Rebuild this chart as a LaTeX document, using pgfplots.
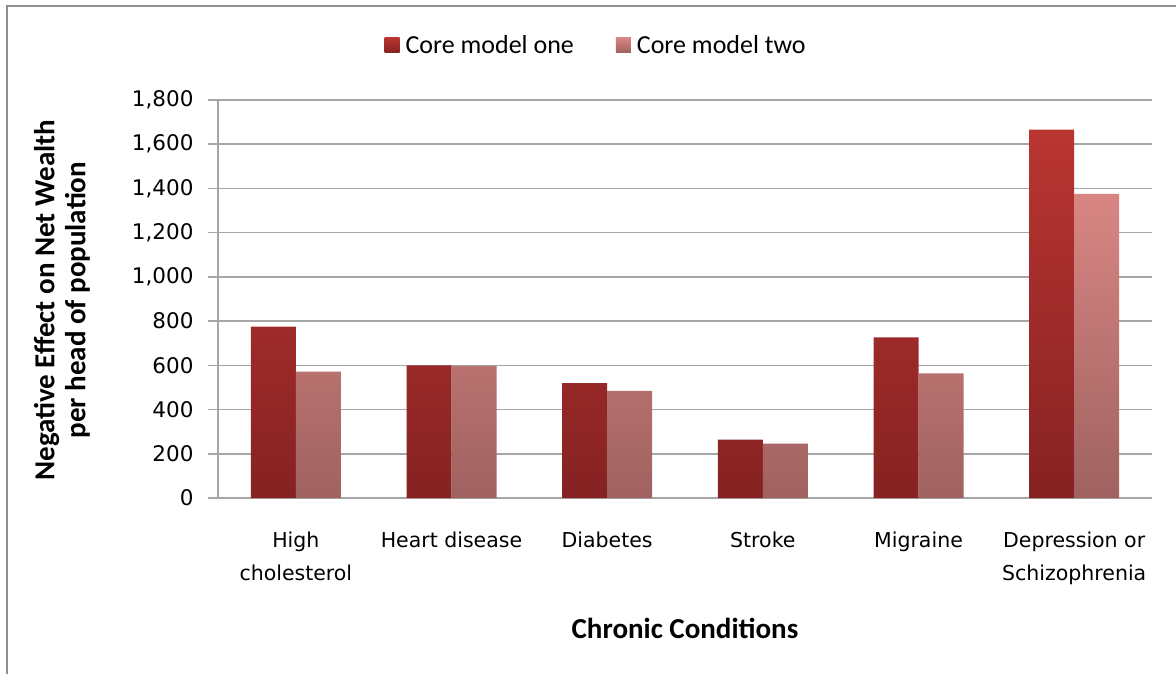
\documentclass[border=0pt]{standalone}
\usepackage{pgfplots}
\pgfplotsset{compat=1.18}
\usepackage{fontspec}
\setmainfont{Carlito}
\newfontfamily\tickfamily{DejaVu Sans}
\definecolor{onetop}{HTML}{B93532}
\definecolor{onebot}{HTML}{862222}
\definecolor{twotop}{HTML}{D98683}
\definecolor{twobot}{HTML}{9F6260}
\definecolor{gridc}{HTML}{A6A6A6}
\definecolor{framec}{HTML}{8F8F8F}
\begin{document}
\begin{tikzpicture}[x=1pt,y=1pt]
\useasboundingbox (0,0) rectangle (1176,673);
\draw[framec, line width=2.5pt] (7,-2) -- (7,667) -- (1178,667);
\begin{axis}[
  at={(218pt,175pt)}, anchor=south west,
  scale only axis, width=934pt, height=398pt,
  ybar=0pt, bar width=45pt,
  xmin=-0.5, xmax=5.5, ymin=0, ymax=1800,
  ytick={0,200,...,1800},
  xtick={0,...,5},
  xticklabels={{High\\cholesterol},{Heart disease},{Diabetes},{Stroke},{Migraine},{Depression or\\Schizophrenia}},
  xticklabel style={font=\tickfamily\fontsize{20.5}{33}\selectfont, align=center, anchor=north, yshift=-20pt},
  yticklabel style={font=\tickfamily\fontsize{21.5}{24}\selectfont, xshift=-11pt},
  /pgf/number format/assume math mode=true,
  /pgf/number format/1000 sep={,},
  axis lines*=left,
  axis line style={gridc, line width=1.5pt},
  ymajorgrids, grid style={gridc, line width=1.5pt},
  major x tick style={draw=none},
  ytick style={gridc, line width=1.5pt},
  tick align=outside, major tick length=10pt,
  extra x ticks={-0.5,0.5,...,5.5},
  extra x tick labels={},
  extra x tick style={major tick length=9pt, tick style={gridc, line width=1.5pt}, grid=none},
  xlabel={Chronic Conditions},
  xlabel style={at={(rel axis cs:0.5,-0.327)}, anchor=center, font=\bfseries\fontsize{29}{31}\selectfont},
  ylabel={Negative Effect on Net Wealth\\per head of population},
  ylabel style={at={(rel axis cs:-0.167,0.497)}, anchor=center, align=center, font=\bfseries\fontsize{29}{31}\selectfont},
  legend columns=2,
  legend style={draw=none, fill=none, at={(rel axis cs:0.407,1.138)}, anchor=center, font=\fontsize{26}{30}\selectfont, /tikz/every even column/.append style={column sep=36pt}, nodes={inner xsep=6pt}},
  legend image code/.code={\path[#1, draw=none] (0pt,-7.5pt) rectangle (15pt,7.5pt);},
]
\addplot[draw=none, top color=onetop, bottom color=onebot] coordinates {(0,775) (1,600) (2,519) (3,264) (4,727) (5,1666)};
\addplot[draw=none, top color=twotop, bottom color=twobot] coordinates {(0,571) (1,598) (2,485) (3,246) (4,564) (5,1376)};
\legend{Core model one, Core model two}
\end{axis}
\end{tikzpicture}
\end{document}
